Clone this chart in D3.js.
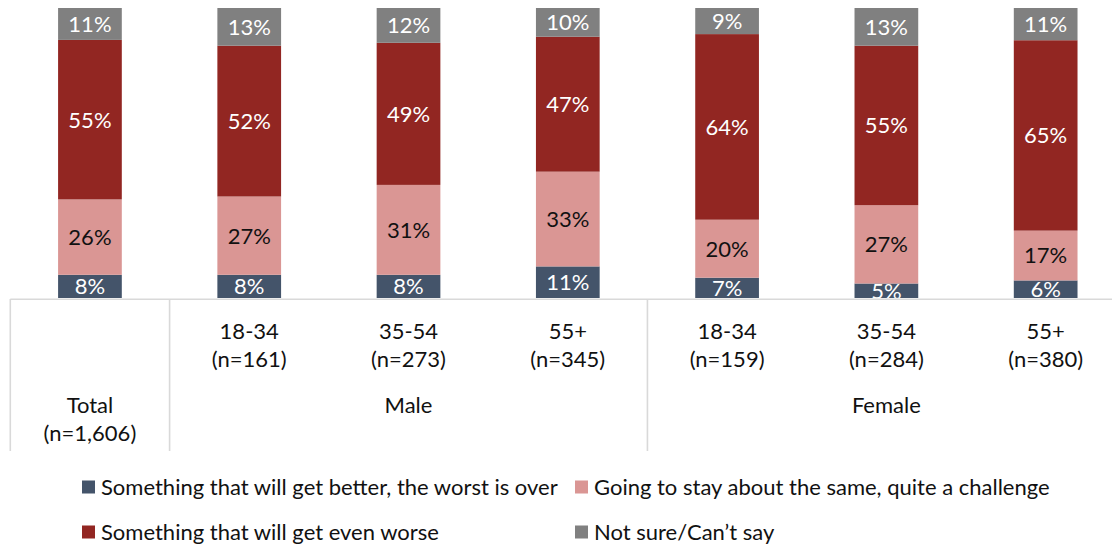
<!DOCTYPE html>
<html>
<head>
<meta charset="utf-8">
<script src="https://cdn.jsdelivr.net/npm/d3@7"></script>
<style>
  body { margin: 0; background: #fff; }
  svg text { font-family: Lato, "Open Sans", sans-serif; }
</style>
</head>
<body>
<svg id="chart" width="1112" height="544"></svg>
<script>
// Outlook on the economy, by gender and age
const categories = ["Total", "Male 18-34", "Male 35-54", "Male 55+", "Female 18-34", "Female 35-54", "Female 55+"];
const ageLabels = ["", "18-34", "35-54", "55+", "18-34", "35-54", "55+"];
const sampleLabels = ["(n=1,606)", "(n=161)", "(n=273)", "(n=345)", "(n=159)", "(n=284)", "(n=380)"];
const groupLabels = ["Male", "Female"];
const groupMembers = [["Male 18-34", "Male 35-54", "Male 55+"], ["Female 18-34", "Female 35-54", "Female 55+"]];

const better = [8, 8, 8, 11, 7, 5, 6];
const same = [26, 27, 31, 33, 20, 27, 17];
const worse = [55, 52, 49, 47, 64, 55, 65];
const notSure = [11, 13, 12, 10, 9, 13, 11];

const seriesKeys = ["better", "same", "worse", "notSure"];
const seriesNames = [
  "Something that will get better, the worst is over",
  "Going to stay about the same, quite a challenge",
  "Something that will get even worse",
  "Not sure/Can\u2019t say"
];
const seriesColors = ["#44546A", "#DA9694", "#922622", "#808080"];
const labelColors = ["#fff", "#111", "#fff", "#fff"];

const rows = categories.map((c, i) => ({
  cat: c, better: better[i], same: same[i], worse: worse[i], notSure: notSure[i]
}));

const svg = d3.select("#chart");
const W = 1112;
const plotTop = 8, plotBottom = 298;
const fontSize = 22;

const x = d3.scaleBand()
  .domain(categories)
  .range([10.3, 1125.3])
  .paddingInner(0.6)
  .paddingOuter(0.3);

const y = d3.scaleLinear().domain([0, 1]).range([plotBottom, plotTop]);

const stack = d3.stack().keys(seriesKeys).offset(d3.stackOffsetExpand);
const stacked = stack(rows);

svg.append("defs").append("clipPath").attr("id", "plot-clip")
  .append("rect").attr("x", 0).attr("y", 0).attr("width", W).attr("height", plotBottom);

const plot = svg.append("g").attr("clip-path", "url(#plot-clip)");

const layers = plot.selectAll("g.layer")
  .data(stacked)
  .join("g")
  .attr("class", "layer")
  .attr("fill", (d, i) => seriesColors[i]);

layers.selectAll("rect")
  .data(d => d)
  .join("rect")
  .attr("x", d => x(d.data.cat))
  .attr("width", x.bandwidth())
  .attr("y", d => y(d[1]))
  .attr("height", d => y(d[0]) - y(d[1]));

// value labels centred in each segment
stacked.forEach((layer, si) => {
  plot.append("g")
    .selectAll("text")
    .data(layer)
    .join("text")
    .attr("x", d => x(d.data.cat) + x.bandwidth() / 2)
    .attr("y", d => (y(d[0]) + y(d[1])) / 2)
    .attr("dy", "0.36em")
    .attr("text-anchor", "middle")
    .attr("font-size", fontSize)
    .attr("fill", labelColors[si])
    .text(d => d.data[layer.key] + "%");
});

// category axis: baseline, separators and two-level labels
const axisColor = "#D9D9D9";
const step = x.step();
const gap = step - x.bandwidth();
const boundary = i => x(categories[i]) - gap / 2;

svg.append("line")
  .attr("x1", boundary(0)).attr("x2", W)
  .attr("y1", plotBottom + 1.2).attr("y2", plotBottom + 1.2)
  .attr("stroke", axisColor).attr("stroke-width", 1.6);

[0, 1, 4].forEach(i => {
  svg.append("line")
    .attr("x1", boundary(i)).attr("x2", boundary(i))
    .attr("y1", plotBottom + 1).attr("y2", 451)
    .attr("stroke", axisColor).attr("stroke-width", 1.6);
});

const axisText = svg.append("g").attr("font-size", fontSize).attr("fill", "#111").attr("text-anchor", "middle");

categories.forEach((c, i) => {
  const cx = x(c) + x.bandwidth() / 2;
  if (i === 0) {
    axisText.append("text").attr("x", cx).attr("y", 413).text("Total");
    axisText.append("text").attr("x", cx).attr("y", 441).text(sampleLabels[i]);
  } else {
    axisText.append("text").attr("x", cx).attr("y", 339).text(ageLabels[i]);
    axisText.append("text").attr("x", cx).attr("y", 367).text(sampleLabels[i]);
  }
});

groupLabels.forEach((g, gi) => {
  const members = groupMembers[gi];
  const x0 = x(members[0]);
  const x1 = x(members[members.length - 1]) + x.bandwidth();
  axisText.append("text").attr("x", (x0 + x1) / 2).attr("y", 413).text(g);
});

// legend
const legendPos = [[82, 487], [575, 487], [82, 532], [575, 532]];
const legend = svg.append("g").attr("font-size", fontSize).attr("fill", "#111");
seriesNames.forEach((name, i) => {
  const [lx, ly] = legendPos[i];
  legend.append("rect")
    .attr("x", lx).attr("y", ly - 6.5)
    .attr("width", 13).attr("height", 13)
    .attr("fill", seriesColors[i]);
  legend.append("text")
    .attr("x", lx + 19).attr("y", ly + 7.5)
    .text(name);
});
</script>
</body>
</html>
